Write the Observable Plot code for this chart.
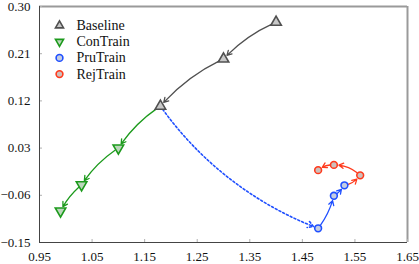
<!DOCTYPE html>
<html>
<head>
<meta charset="utf-8">
<script src="https://cdn.jsdelivr.net/npm/d3@7"></script>
<script src="https://cdn.jsdelivr.net/npm/@observablehq/plot@0.6"></script>
<style>
  html, body { margin: 0; padding: 0; background: #fff; }
  #chart, #chart svg, #chart svg text { font-family: "Liberation Serif", "Times New Roman", Times, "DejaVu Serif", serif !important; }
  #chart svg { display: block; }
</style>
</head>
<body>
<div id="chart"></div>
<script>
// ---- data ----
const seriesNames = ["Baseline", "ConTrain", "PruTrain", "RejTrain"];
const baselineX = [1.40, 1.30, 1.18];
const baselineY = [0.27, 0.20, 0.11];
const conTrainX = [1.10, 1.03, 0.99];
const conTrainY = [0.03, -0.04, -0.09];
const pruTrainX = [1.48, 1.51, 1.53];
const pruTrainY = [-0.123, -0.061, -0.041];
const rejTrainX = [1.56, 1.51, 1.48];
const rejTrainY = [-0.022, -0.002, -0.012];
const xTicks = [0.95, 1.05, 1.15, 1.25, 1.35, 1.45, 1.55, 1.65];
const yTicks = [-0.15, -0.06, 0.03, 0.12, 0.21, 0.30];

// ---- styles ----
const styles = {
  Baseline: {stroke: "#505050", fill: "#c8c8c8", symbol: "triangle", rotate: 0},
  ConTrain: {stroke: "#1c9a1c", fill: "#bcd6bc", symbol: "triangle", rotate: 180},
  PruTrain: {stroke: "#1f4fff", fill: "#c4cde2", symbol: "circle", rotate: 0},
  RejTrain: {stroke: "#ff3a1c", fill: "#cdbfbb", symbol: "circle", rotate: 0}
};

const pts = (xs, ys) => xs.map((x, i) => ({x, y: ys[i]}));
const segs = (p) => p.slice(1).map((d, i) => ({x1: p[i].x, y1: p[i].y, x2: d.x, y2: d.y}));

const base = pts(baselineX, baselineY);
const con = pts(conTrainX, conTrainY);
const pru = pts(pruTrainX, pruTrainY);
const rej = pts(rejTrainX, rejTrainY);
const baseEnd = base[base.length - 1];
const pruEnd = pru[pru.length - 1];

const baseSegs = segs(base);
const conSegs = segs([baseEnd, ...con]);
const pruDotted = segs([baseEnd, pru[0]]);
const pruSegs = segs(pru);
const rejSegs = segs([pruEnd, ...rej]);

const font = "Liberation Serif, Times New Roman, Times, DejaVu Serif, serif";
const xMin = xTicks[0], xMax = xTicks[xTicks.length - 1];
const yMin = yTicks[0], yMax = yTicks[yTicks.length - 1];

function arrows(data, name, extra = {}) {
  return Plot.arrow(data, {
    x1: "x1", y1: "y1", x2: "x2", y2: "y2",
    stroke: styles[name].stroke, strokeWidth: 1.3,
    bend: -12, headLength: 6, insetStart: 4, insetEnd: 5,
    ...extra
  });
}
function dots(data, name, r) {
  const s = styles[name];
  return Plot.dot(data, {
    x: "x", y: "y", symbol: s.symbol, rotate: s.rotate,
    r, stroke: s.stroke, fill: s.fill, strokeWidth: 1.6
  });
}

const legendMarks = [];
seriesNames.forEach((name, i) => {
  const s = styles[name];
  const dy = 19 + 16.2 * i;
  legendMarks.push(Plot.dot([name], {
    frameAnchor: "top-left", dx: 20, dy,
    symbol: s.symbol, rotate: s.rotate,
    r: s.symbol === "circle" ? 3.4 : 3.0,
    stroke: s.stroke, fill: s.fill, strokeWidth: 1.6
  }));
  legendMarks.push(Plot.text([name], {
    frameAnchor: "top-left", dx: 37, dy, text: d => d,
    textAnchor: "start", lineAnchor: "middle",
    fontSize: 14, fill: "#111", fontFamily: font
  }));
});

const chart = Plot.plot({
  width: 419,
  height: 264,
  marginLeft: 39,
  marginRight: 12,
  marginTop: 6,
  marginBottom: 22,
  style: {fontFamily: font, fontSize: "13px", background: "#fff", color: "#111"},
  x: {type: "linear", domain: [xMin, xMax]},
  y: {type: "linear", domain: [yMin, yMax]},
  marks: [
    Plot.ruleY([yMax], {stroke: "#9a9a9a", strokeWidth: 2}),
    Plot.ruleX([xMax], {stroke: "#9a9a9a", strokeWidth: 2}),
    Plot.axisX({ticks: xTicks, tickSize: 0, tickPadding: 9, tickFormat: d3.format(".2f"), label: null, fontSize: 13, fill: "#111", fontFamily: font}),
    Plot.axisY({ticks: yTicks, tickSize: 0, tickPadding: 9, tickFormat: d3.format(".2f"), label: null, fontSize: 13, fill: "#111", fontFamily: font}),
    Plot.ruleX(xTicks, {x: d => d, y1: yMin, y2: yMin, insetTop: -3, stroke: "#b0b0b0"}),
    Plot.ruleY(yTicks, {y: d => d, x1: xMin, x2: xMin, insetRight: -3, stroke: "#b0b0b0"}),
    Plot.ruleX([xMin], {stroke: "#444", strokeWidth: 1}),
    Plot.ruleY([yMin], {stroke: "#444", strokeWidth: 1}),
    arrows(baseSegs, "Baseline"),
    arrows(conSegs, "ConTrain"),
    arrows(pruDotted, "PruTrain", {strokeDasharray: "2,2.2", strokeWidth: 1.6, bend: -17}),
    arrows(pruSegs, "PruTrain"),
    arrows(rejSegs, "RejTrain", {bend: -22}),
    dots(base, "Baseline", 3.9),
    dots(con, "ConTrain", 3.9),
    dots(pru, "PruTrain", 3.4),
    dots(rej, "RejTrain", 3.4),
    ...legendMarks
  ]
});
document.getElementById("chart").appendChild(chart);
</script>
</body>
</html>
